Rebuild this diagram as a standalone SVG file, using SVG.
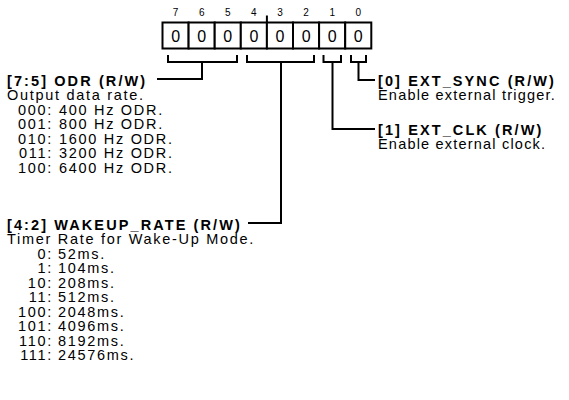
<svg xmlns="http://www.w3.org/2000/svg" width="569" height="400" viewBox="0 0 569 400">
<style>
text{font-family:"Liberation Sans",Arial,sans-serif;fill:#000}
.bn{font-size:10px;text-anchor:middle}
.bv{font-size:16px;text-anchor:middle}
.h{font-size:14.5px;font-weight:bold;letter-spacing:2.1px}
.t{font-size:14.5px;letter-spacing:1.7px}
.r{letter-spacing:1.2px}
.c{text-anchor:end}
.box{fill:#fff;stroke:#000;stroke-width:2}
.ln{fill:none;stroke:#000;stroke-width:2}
</style>
<rect width="569" height="400" fill="#fff"/>
<g id="register">
<g id="bit7"><rect class="box" x="162.5" y="22.5" width="26.1" height="26"/><text class="bn" x="175.6" y="16">7</text><text class="bv" x="175.6" y="41.5">0</text></g>
<g id="bit6"><rect class="box" x="188.6" y="22.5" width="26.1" height="26"/><text class="bn" x="201.7" y="16">6</text><text class="bv" x="201.7" y="41.5">0</text></g>
<g id="bit5"><rect class="box" x="214.7" y="22.5" width="26.1" height="26"/><text class="bn" x="227.8" y="16">5</text><text class="bv" x="227.8" y="41.5">0</text></g>
<g id="bit4"><rect class="box" x="240.8" y="22.5" width="26.1" height="26"/><text class="bn" x="253.9" y="16">4</text><text class="bv" x="253.9" y="41.5">0</text></g>
<g id="bit3"><rect class="box" x="266.9" y="22.5" width="26.1" height="26"/><text class="bn" x="280" y="16">3</text><text class="bv" x="280" y="41.5">0</text></g>
<g id="bit2"><rect class="box" x="293" y="22.5" width="26.1" height="26"/><text class="bn" x="306.1" y="16">2</text><text class="bv" x="306.1" y="41.5">0</text></g>
<g id="bit1"><rect class="box" x="319.1" y="22.5" width="26.1" height="26"/><text class="bn" x="332.2" y="16">1</text><text class="bv" x="332.2" y="41.5">0</text></g>
<g id="bit0"><rect class="box" x="345.2" y="22.5" width="26.1" height="26"/><text class="bn" x="358.3" y="16">0</text><text class="bv" x="358.3" y="41.5">0</text></g>
</g>
<g id="connectors">
<path class="ln" d="M266.9,15.5V22.5"/>
<path class="ln" d="M168,55V62H237V55M202,62V79H157"/>
<path class="ln" d="M247,55V62H314V55M281,62V223H248"/>
<path class="ln" d="M323.5,55V62H341V55M332.5,62V129H375"/>
<path class="ln" d="M351,55V62H366V55M358.5,62V80H375"/>
</g>
<g id="odr">
<text class="h" x="7" y="85.5">[7:5] ODR (R/W)</text>
<text class="t" x="7" y="100">Output data rate.</text>
<text class="t c" x="53" y="114.5">000:</text><text class="t" x="59" y="114.5">400 Hz ODR.</text>
<text class="t c" x="53" y="129">001:</text><text class="t" x="59" y="129">800 Hz ODR.</text>
<text class="t c" x="53" y="143.5">010:</text><text class="t" x="59" y="143.5">1600 Hz ODR.</text>
<text class="t c" x="53" y="158">011:</text><text class="t" x="59" y="158">3200 Hz ODR.</text>
<text class="t c" x="53" y="172.5">100:</text><text class="t" x="59" y="172.5">6400 Hz ODR.</text>
</g>
<g id="wakeup">
<text class="h" x="7" y="229.5">[4:2] WAKEUP_RATE (R/W)</text>
<text class="t" x="7" y="244">Timer Rate for Wake-Up Mode.</text>
<text class="t c" x="53" y="258.5">0:</text><text class="t" x="58" y="258.5">52ms.</text>
<text class="t c" x="53" y="273">1:</text><text class="t" x="58" y="273">104ms.</text>
<text class="t c" x="53" y="287.5">10:</text><text class="t" x="58" y="287.5">208ms.</text>
<text class="t c" x="53" y="302">11:</text><text class="t" x="58" y="302">512ms.</text>
<text class="t c" x="53" y="316.5">100:</text><text class="t" x="58" y="316.5">2048ms.</text>
<text class="t c" x="53" y="331">101:</text><text class="t" x="58" y="331">4096ms.</text>
<text class="t c" x="53" y="345.5">110:</text><text class="t" x="58" y="345.5">8192ms.</text>
<text class="t c" x="53" y="360">111:</text><text class="t" x="58" y="360">24576ms.</text>
</g>
<g id="ext_sync">
<text class="h" x="378" y="85.5">[0] EXT_SYNC (R/W)</text>
<text class="t r" x="378" y="100">Enable external trigger.</text>
</g>
<g id="ext_clk">
<text class="h" x="378" y="134.5">[1] EXT_CLK (R/W)</text>
<text class="t r" x="378" y="149">Enable external clock.</text>
</g>
</svg>
